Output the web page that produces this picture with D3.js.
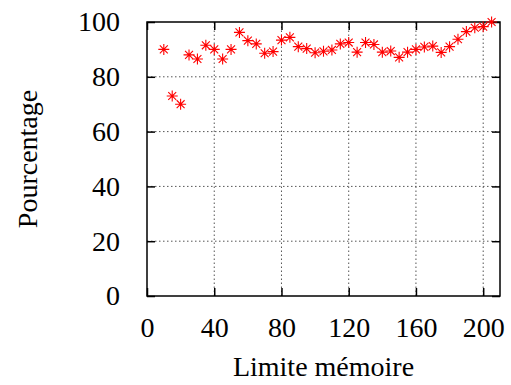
<!DOCTYPE html>
<html><head><meta charset="utf-8">
<script src="https://cdn.jsdelivr.net/npm/d3@7"></script>
<style>html,body{margin:0;padding:0;background:#fff;}svg{display:block;}</style>
</head><body>
<script>
const xValues = [10,15,20,25,30,35,40,45,50,55,60,65,70,75,80,85,90,95,100,105,110,115,120,125,130,135,140,145,150,155,160,165,170,175,180,185,190,195,200,205];
const yValues = [90,73,70,88,86.5,91.5,90,86.5,90,96.2,93.2,92,88.6,89.2,93.4,94.4,91,90.3,88.8,89.3,89.8,92,92.5,89,92.5,91.8,89,89.4,87.1,89,90,90.9,91.2,88.9,91,93.7,96.5,97.9,98.3,100];
const xTicks = [0,40,80,120,160,200];
const yTicks = [0,20,40,60,80,100];
const xTitle = "Limite mémoire";
const yTitle = "Pourcentage";

const W = 511, H = 385;
const m = {left:147, right:11, top:22, bottom:89};
const svg = d3.select("body").append("svg").attr("width", W).attr("height", H);
const x = d3.scaleLinear().domain([0,210]).range([m.left, W - m.right]);
const y = d3.scaleLinear().domain([0,100]).range([H - m.bottom, m.top]);
const font = "'Liberation Serif', 'Times New Roman', serif";
const fs = 28;

// grid
const g = svg.append("g");
g.selectAll(".gx").data(xTicks.filter(d => d > 0)).enter().append("line")
  .attr("x1", d => x(d)).attr("x2", d => x(d)).attr("y1", y(0)).attr("y2", y(100))
  .attr("stroke", "#555").attr("stroke-width", 1).attr("stroke-dasharray", "1.5,2.5");
g.selectAll(".gy").data(yTicks.filter(d => d > 0 && d < 100)).enter().append("line")
  .attr("y1", d => y(d)).attr("y2", d => y(d)).attr("x1", x(0)).attr("x2", x(210))
  .attr("stroke", "#555").attr("stroke-width", 1).attr("stroke-dasharray", "1.5,2.5");

// axes with inward ticks
const tl = 8;
const axB = d3.axisBottom(x).tickValues(xTicks).tickSize(-tl).tickPadding(tl + 13).tickFormat(d3.format("d"));
const axL = d3.axisLeft(y).tickValues(yTicks).tickSize(-tl).tickPadding(tl + 19).tickFormat(d3.format("d"));
const axT = d3.axisTop(x).tickValues(xTicks).tickSize(-tl).tickFormat("");
const axR = d3.axisRight(y).tickValues(yTicks).tickSize(-tl).tickFormat("");
function style(sel){
  sel.select(".domain").remove();
  sel.selectAll(".tick line").attr("stroke", "#000").attr("stroke-width", 1.5);
  sel.selectAll(".tick text").attr("font-family", font).attr("font-size", fs).attr("fill", "#000");
}
svg.append("g").attr("transform", `translate(0,${y(0)})`).call(axB).call(style);
svg.append("g").attr("transform", `translate(${x(0)},0)`).call(axL).call(style);
svg.append("g").attr("transform", `translate(0,${y(100)})`).call(axT).call(style);
svg.append("g").attr("transform", `translate(${x(210)},0)`).call(axR).call(style);

// border
svg.append("rect").attr("x", x(0)).attr("y", y(100)).attr("width", x(210) - x(0)).attr("height", y(0) - y(100))
  .attr("fill", "none").attr("stroke", "#000").attr("stroke-width", 1.5);

// markers (asterisk)
const r = 5.5, rd = r * 0.72;
const pts = xValues.map((v, i) => [v, yValues[i]]);
const mk = svg.append("g").attr("stroke", "#f00").attr("stroke-width", 1.1).attr("fill", "none");
mk.selectAll("path").data(pts).enter().append("path")
  .attr("transform", d => `translate(${x(d[0])},${y(d[1])})`)
  .attr("d", `M${-r},0H${r}M0,${-r}V${r}M${-rd},${-rd}L${rd},${rd}M${-rd},${rd}L${rd},${-rd}`);

// titles
svg.append("text").attr("x", x(105)).attr("y", 376).attr("text-anchor", "middle")
  .attr("font-family", font).attr("font-size", fs).text(xTitle);
svg.append("text").attr("transform", `translate(37,${(y(0)+y(100))/2}) rotate(-90)`).attr("text-anchor", "middle")
  .attr("font-family", font).attr("font-size", fs).text(yTitle);
</script>
</body></html>
